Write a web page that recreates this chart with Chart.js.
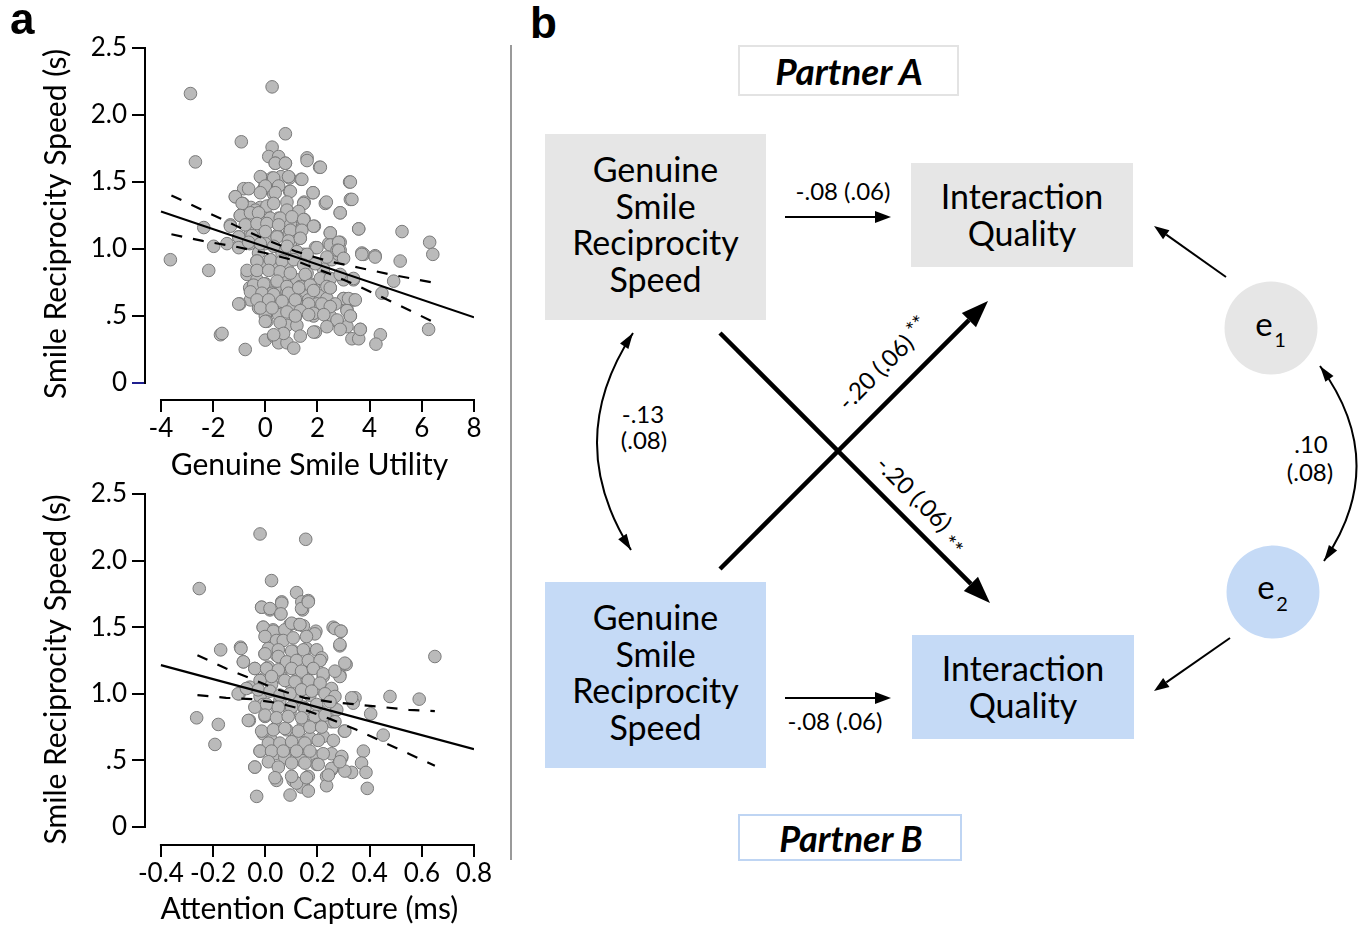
<!DOCTYPE html>
<html>
<head>
<meta charset="utf-8">
<script src="https://cdn.jsdelivr.net/npm/chart.js@4.4.1/dist/chart.umd.min.js"></script>
<style>
	html, body { margin: 0; padding: 0; background: #fff; }
	#page { position: relative; width: 1362px; height: 930px; overflow: hidden; font-family: Lato, sans-serif; }
	#diagram { position: absolute; left: 0; top: 0; }
	canvas { position: absolute; left: 0; }
	#utility-scatter { top: 0; }
	#attention-scatter { top: 470px; }
	.panel-label { position: absolute; font: bold 44px "Liberation Sans", Arial, sans-serif; line-height: 1; }
</style>
</head>
<body>
<div id="page">
	<svg id="diagram" width="1362" height="930"></svg>
	<canvas id="utility-scatter" width="510" height="490"></canvas>
	<canvas id="attention-scatter" width="510" height="460"></canvas>
	<div class="panel-label" style="left:10px; top:-3px;">a</div>
	<div class="panel-label" style="left:530px; top:1px;">b</div>
</div>
<script>

//
// Data
//

// panel a, top: genuine smile utility vs smile reciprocity speed
var utilityX = [
	-2.87, 0.26, -2.68, 0.77, -0.92, 0.26, 0.13, 0.51, 0.38, 0.77, 1.60, 2.08,
	-0.13, 0.26, 0.60, 0.93, 1.37, 3.23, 0.00, 0.38, -0.83, -0.06, 0.32, 0.93,
	1.83, -1.15, -0.86, 0.29, 0.83, 1.49, 2.30, 3.26, 2.87, -0.55, -0.19, -0.96,
	-0.34, 0.06, 0.51, 1.21, 1.49, -1.34, -0.74, 0.51, 0.96, 1.40, 1.88, 3.58,
	5.24, 6.30, -2.36, -1.02, -0.57, -0.19, 0.06, 0.45, 0.92, 1.34, 2.49, -1.98,
	-1.02, -0.60, 0.00, 0.96, 1.92, 2.43, 2.87, 3.70, 2.87, -0.26, 0.64, 1.47,
	3.77, 4.21, 6.42, 5.17, -0.32, 0.19, 0.96, 1.72, 2.55, 2.81, -3.64, -2.17,
	-0.70, -0.19, 0.26, 0.83, 1.60, 2.23, -0.32, 0.00, 0.77, 1.21, 1.72, 2.49,
	3.00, 3.38, 4.92, -0.60, -0.17, 0.45, 1.34, 1.85, 2.49, 4.47, 0.26, 0.83,
	1.47, 2.11, -0.57, 0.06, 0.64, 1.21, 1.66, 2.36, 3.00, 3.38, -0.98, -0.26,
	0.26, 0.96, 1.98, 2.49, 3.13, 0.00, 0.51, 1.15, 1.85, 2.49, 3.26, 0.06,
	0.83, 1.21, 2.75, 3.13, 3.64, 1.92, 4.41, 6.26, -1.72, 0.00, 0.32, 0.51,
	0.83, 1.09, -0.77, 3.32, 3.58, 4.24,
	0.38, 0.77, 1.60, 2.11, -0.19, 0.32, 0.89, 1.40, 0.00, 0.51, 0.96, 1.83,
	3.26, -1.15, -0.64, -0.19, 0.38, 0.83, 1.47, 2.34, 3.32, -0.89, -0.38, 0.06,
	0.32, 0.83, 1.28, 2.87, -0.96, -0.57, -0.26, 0.19, 0.57, 1.02, 1.47, 1.85,
	3.58, -1.34, -0.77, -0.32, 0.06, 0.51, 0.96, 1.40, 2.49, -1.02, -0.51, 0.00,
	0.45, 0.89, 1.34, 1.98, 2.49, 2.81, 2.75, -1.47, -1.02, -0.64, -0.19, 0.32,
	0.83, 1.21, 1.60, 2.36, 2.81, 3.00, 3.70, 4.21, -0.32, 0.19, 0.64, 1.09,
	1.47, 1.92, -0.70, -0.32, 0.13, 0.57, 0.96, 1.53, 2.11, 2.49, 2.87, 3.38,
	-0.45, -0.06, 0.45, 0.83, 1.34, 1.72, 2.36, -0.57, -0.13, 0.32, 0.89, 1.28,
	1.85, 2.49, 3.00, -1.02, -0.32, 0.13, 0.64, 1.15, 1.66, 2.17, 2.68, 3.19,
	3.45, -0.19, 0.26, 0.83, 1.34, 1.85, 2.49, 3.13, 0.00, 0.57, 1.15, 1.66,
	2.24, 2.75, 3.26, 0.70, 1.85, 2.36, 2.87, 3.64, -1.66, 0.32, 1.34
];
var utilityY = [
	2.16, 2.21, 1.65, 1.86, 1.80, 1.76, 1.69, 1.69, 1.64, 1.64, 1.68, 1.61,
	1.53, 1.53, 1.54, 1.53, 1.52, 1.50, 1.47, 1.48, 1.45, 1.45, 1.41, 1.43,
	1.42, 1.39, 1.34, 1.34, 1.29, 1.35, 1.34, 1.37, 1.27, 1.31, 1.31, 1.25,
	1.27, 1.25, 1.23, 1.24, 1.22, 1.18, 1.19, 1.18, 1.19, 1.15, 1.17, 1.15,
	1.13, 1.05, 1.16, 1.09, 1.12, 1.12, 1.07, 1.10, 1.12, 1.08, 1.12, 1.02,
	1.02, 1.04, 1.04, 1.04, 1.01, 1.04, 1.05, 0.97, 0.99, 0.97, 0.97, 0.96,
	0.96, 0.95, 0.96, 0.91, 0.91, 0.92, 0.92, 0.91, 0.92, 0.96, 0.92, 0.84,
	0.81, 0.87, 0.86, 0.87, 0.82, 0.85, 0.77, 0.74, 0.79, 0.77, 0.74, 0.78,
	0.77, 0.77, 0.76, 0.71, 0.71, 0.69, 0.71, 0.72, 0.71, 0.67, 0.67, 0.68,
	0.67, 0.65, 0.62, 0.62, 0.61, 0.62, 0.62, 0.63, 0.63, 0.62, 0.59, 0.56,
	0.56, 0.56, 0.59, 0.57, 0.55, 0.50, 0.51, 0.49, 0.50, 0.50, 0.50, 0.46,
	0.43, 0.43, 0.46, 0.42, 0.40, 0.38, 0.36, 0.40, 0.36, 0.32, 0.35, 0.30,
	0.30, 0.26, 0.25, 0.33, 0.33, 0.29,
	1.64, 1.64, 1.66, 1.61, 1.54, 1.53, 1.54, 1.52, 1.47, 1.47, 1.43, 1.42,
	1.50, 1.39, 1.45, 1.42, 1.42, 1.35, 1.34, 1.35, 1.37, 1.34, 1.29, 1.32,
	1.34, 1.29, 1.28, 1.27, 1.25, 1.27, 1.27, 1.23, 1.23, 1.24, 1.22, 1.17,
	1.15, 1.17, 1.18, 1.19, 1.19, 1.18, 1.14, 1.14, 1.12, 1.09, 1.10, 1.13,
	1.09, 1.06, 1.08, 1.01, 1.03, 1.05, 0.99, 1.04, 1.01, 1.05, 1.04, 1.02,
	1.02, 0.98, 0.96, 0.94, 0.99, 0.93, 0.96, 0.94, 0.91, 0.92, 0.91, 0.92,
	0.88, 0.89, 0.84, 0.84, 0.84, 0.83, 0.82, 0.81, 0.78, 0.78, 0.81, 0.78,
	0.73, 0.74, 0.76, 0.72, 0.72, 0.73, 0.72, 0.68, 0.67, 0.66, 0.67, 0.71,
	0.69, 0.71, 0.63, 0.59, 0.62, 0.62, 0.61, 0.62, 0.59, 0.59, 0.59, 0.63,
	0.62, 0.56, 0.56, 0.53, 0.54, 0.52, 0.57, 0.54, 0.46, 0.45, 0.50, 0.51,
	0.51, 0.47, 0.50, 0.37, 0.38, 0.42, 0.40, 0.40, 0.37, 0.36, 0.35
];
var utilityFitX = [-4, 8];
var utilityFitY = [1.28, 0.49];
var utilityBandX = [-3.6, -2.4, -1.2, 0, 1.2, 2.4, 3.6, 4.8, 6.4];
var utilityUpper = [1.40, 1.29, 1.18, 1.07, 0.98, 0.91, 0.86, 0.81, 0.75];
var utilityLower = [1.11, 1.06, 1.02, 0.97, 0.91, 0.82, 0.72, 0.61, 0.46];

// panel a, bottom: attention capture vs smile reciprocity speed
var attentionX = [
	-0.020, 0.155, -0.253, 0.024, 0.120, 0.140, 0.165, 0.143, -0.014, 0.018, 0.063, 0.059,
	0.650, -0.008, 0.030, 0.095, 0.127, 0.146, 0.194, 0.260, 0.290, 0.012, 0.063, -0.171,
	-0.095, -0.001, 0.043, 0.107, 0.158, 0.286, 0.210, 0.310, -0.084, -0.040, 0.012, 0.075,
	0.120, 0.178, 0.222, 0.286, -0.001, 0.063, -0.100, -0.059, 0.024, 0.095, 0.146, 0.203,
	0.254, 0.344, 0.478, 0.590, -0.020, 0.056, 0.120, 0.171, 0.254, -0.263, -0.180, -0.061,
	-0.001, 0.043, 0.095, 0.146, 0.210, 0.274, 0.404, 0.337, -0.008, -0.193, -0.008, 0.043,
	0.082, 0.146, 0.197, 0.254, 0.303, 0.452, 0.120, 0.171, 0.222, 0.024, -0.020, 0.037,
	0.095, 0.152, 0.197, 0.254, 0.376, 0.075, 0.139, 0.293, 0.369, -0.040, 0.043, 0.107,
	0.146, 0.165, 0.235, 0.254, 0.331, 0.386, 0.391, 0.235, 0.197, 0.280, -0.033, 0.095,
	0.139, 0.165, 0.120,
	-0.014, 0.018, 0.063, 0.060, 0.139, 0.165, -0.008, 0.031, 0.075, 0.101, 0.133, 0.190,
	0.267, 0.290, 0.286, -0.001, 0.043, 0.069, 0.107, 0.158, -0.093, 0.012, 0.050, 0.101,
	0.146, 0.197, 0.216, -0.001, 0.050, 0.082, 0.120, 0.165, 0.210, 0.305, -0.084, -0.040,
	0.005, 0.050, 0.101, 0.139, 0.184, 0.222, 0.286, 0.267, -0.020, 0.024, 0.075, 0.114,
	0.165, 0.210, 0.254, -0.104, -0.072, -0.027, 0.018, 0.056, 0.095, 0.139, 0.178, 0.229,
	0.267, 0.331, -0.040, 0.005, 0.050, 0.101, 0.152, 0.197, 0.248, -0.065, -0.001, 0.043,
	0.088, 0.139, 0.190, 0.229, 0.267, -0.014, 0.031, 0.075, 0.127, 0.171, 0.216, 0.305,
	0.012, 0.056, 0.101, 0.152, 0.203, 0.261, -0.020, 0.024, 0.069, 0.120, 0.171, 0.222,
	0.293, -0.040, 0.012, 0.050, 0.101, 0.152, 0.203, 0.254, 0.305, 0.286, 0.037, 0.101,
	0.158, 0.242
];
var attentionY = [
	2.20, 2.16, 1.79, 1.85, 1.76, 1.69, 1.70, 1.63, 1.65, 1.63, 1.69, 1.60,
	1.28, 1.50, 1.48, 1.52, 1.52, 1.51, 1.47, 1.50, 1.47, 1.43, 1.40, 1.33,
	1.35, 1.30, 1.29, 1.32, 1.34, 1.36, 1.25, 1.22, 1.24, 1.19, 1.20, 1.20,
	1.17, 1.19, 1.13, 1.14, 1.12, 1.12, 1.00, 1.05, 1.07, 1.08, 1.07, 1.04,
	1.03, 0.97, 0.98, 0.96, 0.98, 0.95, 0.97, 0.99, 0.95, 0.82, 0.77, 0.80,
	0.83, 0.90, 0.87, 0.90, 0.87, 0.88, 0.85, 0.93, 0.92, 0.62, 0.70, 0.75,
	0.73, 0.78, 0.77, 0.79, 0.72, 0.69, 0.68, 0.67, 0.68, 0.65, 0.57, 0.55,
	0.58, 0.59, 0.53, 0.55, 0.57, 0.52, 0.50, 0.52, 0.48, 0.45, 0.35, 0.35,
	0.33, 0.38, 0.38, 0.43, 0.41, 0.41, 0.29, 0.31, 0.47, 0.47, 0.23, 0.24,
	0.30, 0.27, 0.33,
	1.65, 1.64, 1.68, 1.60, 1.64, 1.69, 1.50, 1.47, 1.48, 1.53, 1.52, 1.45,
	1.49, 1.47, 1.37, 1.43, 1.40, 1.40, 1.42, 1.43, 1.34, 1.34, 1.33, 1.32,
	1.33, 1.33, 1.27, 1.30, 1.28, 1.24, 1.25, 1.25, 1.25, 1.23, 1.24, 1.19,
	1.19, 1.18, 1.19, 1.17, 1.19, 1.15, 1.13, 1.17, 1.10, 1.13, 1.10, 1.09,
	1.10, 1.08, 1.04, 1.00, 1.04, 1.03, 1.02, 0.99, 1.00, 1.03, 1.02, 1.00,
	0.98, 0.97, 0.90, 0.92, 0.90, 0.90, 0.89, 0.92, 0.94, 0.80, 0.84, 0.82,
	0.83, 0.82, 0.83, 0.84, 0.79, 0.72, 0.73, 0.74, 0.72, 0.75, 0.75, 0.72,
	0.63, 0.63, 0.64, 0.63, 0.65, 0.65, 0.57, 0.57, 0.57, 0.57, 0.57, 0.55,
	0.53, 0.45, 0.49, 0.45, 0.48, 0.48, 0.47, 0.44, 0.42, 0.49, 0.37, 0.38,
	0.37, 0.39
];
var attentionFitX = [-0.4, 0.8];
var attentionFitY = [1.215, 0.585];
var attentionBandX = [-0.26, -0.15, -0.05, 0.05, 0.15, 0.25, 0.35, 0.45, 0.55, 0.65];
var attentionUpper = [1.29, 1.19, 1.11, 1.03, 0.97, 0.94, 0.92, 0.90, 0.88, 0.87];
var attentionLower = [0.99, 0.97, 0.96, 0.93, 0.88, 0.81, 0.73, 0.64, 0.55, 0.46];

// tick labels
var speedTicks = [0, 0.5, 1, 1.5, 2, 2.5];
var speedTickLabels = ['0', '.5', '1.0', '1.5', '2.0', '2.5'];
var utilityTicks = [-4, -2, 0, 2, 4, 6, 8];
var utilityTickLabels = ['-4', '-2', '0', '2', '4', '6', '8'];
var attentionTicks = [-0.4, -0.2, 0, 0.2, 0.4, 0.6, 0.8];
var attentionTickLabels = ['-0.4', '-0.2', '0.0', '0.2', '0.4', '0.6', '0.8'];

// panel b path coefficients
var actorLabel = '-.08 (.06)';
var partnerLabel = '-.20 (.06)';
var predictorCovLabel = ['-.13', '(.08)'];
var residualCovLabel = ['.10', '(.08)'];


//
// Methods
//

Chart.defaults.font.family = 'Lato, sans-serif';
Chart.defaults.color = '#000';

function toPoints(xs, ys) {
	return xs.map(function(x, i) { return { x: x, y: ys[i] }; });
}

// axis lines only span the first and last tick, like the detached axes of the figure
var axisLines = {
	id: 'axisLines',
	afterDraw: function(chart, args, opts) {
		var ctx = chart.ctx, area = chart.chartArea;
		var xs = chart.scales.x, ys = chart.scales.y;
		ctx.save();
		ctx.strokeStyle = '#000';
		ctx.lineWidth = 2;
		ctx.beginPath();
		ctx.moveTo(area.left, ys.getPixelForValue(opts.yTicks[0]) + 1);
		ctx.lineTo(area.left, ys.getPixelForValue(opts.yTicks[opts.yTicks.length - 1]) - 1);
		ctx.moveTo(xs.getPixelForValue(opts.xTicks[0]) - 1, area.bottom);
		ctx.lineTo(xs.getPixelForValue(opts.xTicks[opts.xTicks.length - 1]) + 1, area.bottom);
		ctx.stroke();
		ctx.restore();
	}
};

function initScatter(canvasId, cfg) {
	var canvas = document.getElementById(canvasId);

	return new Chart(canvas, {
		type: 'scatter',
		data: {
			datasets: [{
				data: toPoints(cfg.fitX, cfg.fitY),
				showLine: true, pointRadius: 0, borderColor: '#000', borderWidth: 2.2
			}, {
				data: toPoints(cfg.bandX, cfg.upper),
				showLine: true, pointRadius: 0, borderColor: '#000', borderWidth: 2.2, borderDash: [11, 11]
			}, {
				data: toPoints(cfg.bandX, cfg.lower),
				showLine: true, pointRadius: 0, borderColor: '#000', borderWidth: 2.2, borderDash: [11, 11]
			}, {
				data: toPoints(cfg.x, cfg.y),
				pointRadius: 6.3,
				pointBackgroundColor: '#bababa',
				pointBorderColor: '#7a7a7a',
				pointBorderWidth: 1
			}]
		},
		options: {
			responsive: false,
			animation: false,
			events: [],
			layout: { padding: { left: 0, top: cfg.top, right: 36, bottom: 0 } },
			plugins: {
				legend: { display: false },
				tooltip: { enabled: false },
				axisLines: { xTicks: cfg.xTicks, yTicks: speedTicks }
			},
			scales: {
				x: {
					min: cfg.xMin, max: cfg.xTicks[cfg.xTicks.length - 1],
					afterFit: function(s) { s.height = cfg.xHeight; },
					afterBuildTicks: function(s) { s.ticks = cfg.xTicks.map(function(v) { return { value: v }; }); },
					border: { display: false },
					grid: { drawOnChartArea: false, drawTicks: true, tickLength: 12, lineWidth: 2, color: '#000' },
					ticks: {
						autoSkip: false, maxRotation: 0, padding: 1,
						font: { size: 26 },
						callback: function(v, i) { return cfg.xLabels[i]; }
					},
					title: { display: true, text: cfg.xTitle, font: { size: 30 }, padding: { top: 0, bottom: cfg.xTitlePad } }
				},
				y: {
					min: cfg.yMin, max: 2.5,
					afterFit: function(s) { s.width = 145; },
					afterBuildTicks: function(s) { s.ticks = speedTicks.map(function(v) { return { value: v }; }); },
					border: { display: false },
					grid: {
						drawOnChartArea: false, drawTicks: true, tickLength: 13, lineWidth: 2,
						color: function(c) { return (c.tick && c.tick.value === 0) ? cfg.zeroTickColor : '#000'; }
					},
					ticks: {
						padding: 5,
						font: { size: 26 },
						callback: function(v, i) { return speedTickLabels[i]; }
					},
					title: { display: true, text: 'Smile Reciprocity Speed (s)', font: { size: 30 }, padding: { top: 38, bottom: 0 } }
				}
			}
		},
		plugins: [axisLines]
	});
}


//
// Diagram (panel b)
//

function arrow(x1, y1, x2, y2, w, hl, hw) {
	var dx = x2 - x1, dy = y2 - y1, len = Math.sqrt(dx * dx + dy * dy);
	var ux = dx / len, uy = dy / len;
	var bx = x2 - ux * (hl - 1), by = y2 - uy * (hl - 1);
	var px = -uy * hw / 2, py = ux * hw / 2;
	return '<line x1="' + x1 + '" y1="' + y1 + '" x2="' + bx + '" y2="' + by + '" stroke="#000" stroke-width="' + w + '"/>' +
		'<polygon fill="#000" points="' + x2 + ',' + y2 + ' ' + (bx + px) + ',' + (by + py) + ' ' + (bx - px) + ',' + (by - py) + '"/>';
}

function head(tx, ty, ux, uy, hl, hw) {
	var len = Math.sqrt(ux * ux + uy * uy);
	ux /= len; uy /= len;
	var bx = tx - ux * hl, by = ty - uy * hl;
	var px = -uy * hw / 2, py = ux * hw / 2;
	return '<polygon fill="#000" points="' + tx + ',' + ty + ' ' + (bx + px) + ',' + (by + py) + ' ' + (bx - px) + ',' + (by - py) + '"/>';
}

function curvedArrow(p0, c, p2) {
	return '<path d="M' + p0[0] + ',' + p0[1] + ' Q' + c[0] + ',' + c[1] + ' ' + p2[0] + ',' + p2[1] + '" fill="none" stroke="#000" stroke-width="2"/>' +
		head(p0[0], p0[1], p0[0] - c[0], p0[1] - c[1], 16, 10) +
		head(p2[0], p2[1], p2[0] - c[0], p2[1] - c[1], 16, 10);
}

function box(x, y, w, h, fill, lines, lineH, shift) {
	var s = '<rect x="' + x + '" y="' + y + '" width="' + w + '" height="' + h + '" fill="' + fill + '"/>';
	var cy = y + h / 2, first = cy - (lines.length - 1) / 2 * lineH + shift;
	lines.forEach(function(t, i) {
		s += '<text x="' + (x + w / 2) + '" y="' + (first + i * lineH) + '" text-anchor="middle" font-size="34">' + t + '</text>';
	});
	return s;
}

function initDiagram() {
	var gray = '#e6e6e6', blue = '#c5daf6';
	var predictor = ['Genuine', 'Smile', 'Reciprocity', 'Speed'];
	var outcome = ['Interaction', 'Quality'];
	var s = '';

	s += '<line x1="511" y1="45" x2="511" y2="860" stroke="#9a9a9a" stroke-width="2"/>';

	// partner labels
	s += '<rect x="739" y="46" width="219" height="49" fill="#fff" stroke="#e3e3e3" stroke-width="2"/>';
	s += '<text x="849" y="85" text-anchor="middle" font-size="37" font-weight="bold" font-style="italic">Partner A</text>';
	s += '<rect x="739" y="815" width="222" height="45" fill="#fff" stroke="#bfd5f3" stroke-width="2"/>';
	s += '<text x="851" y="852" text-anchor="middle" font-size="36" font-weight="bold" font-style="italic">Partner B</text>';

	// boxes
	s += box(545, 134, 221, 186, gray, predictor, 36.5, 10);
	s += box(911, 163, 222, 104, gray, outcome, 37, 12);
	s += box(545, 582, 221, 186, blue, predictor, 36.5, 10);
	s += box(912, 635, 222, 104, blue, outcome, 37, 12);

	// residual circles
	s += '<circle cx="1271" cy="328" r="46.5" fill="' + gray + '"/>';
	s += '<text x="1264" y="336" text-anchor="middle" font-size="33">e</text>';
	s += '<text x="1280" y="347" text-anchor="middle" font-size="20">1</text>';
	s += '<circle cx="1273" cy="592" r="46.5" fill="' + blue + '"/>';
	s += '<text x="1266" y="599" text-anchor="middle" font-size="33">e</text>';
	s += '<text x="1282" y="611" text-anchor="middle" font-size="20">2</text>';

	// actor paths
	s += arrow(785, 217, 891, 217, 2, 17, 12);
	s += arrow(785, 698, 891, 698, 2, 17, 12);
	s += '<text x="843" y="200" text-anchor="middle" font-size="24">' + actorLabel + '</text>';
	s += '<text x="835" y="730" text-anchor="middle" font-size="24">' + actorLabel + '</text>';

	// residual paths
	s += arrow(1226, 277, 1154, 226, 2, 16, 11);
	s += arrow(1230, 638, 1154, 691, 2, 16, 11);

	// partner paths
	s += arrow(720, 333, 990, 603, 4.5, 28, 20);
	s += arrow(720, 569, 988, 301, 4.5, 28, 20);
	s += '<text transform="translate(890,370) rotate(-45)" text-anchor="middle" font-size="24">' + partnerLabel +
		'<tspan font-size="22" dx="5" dy="-5">**</tspan></text>';
	s += '<text transform="translate(917,509) rotate(45)" text-anchor="middle" font-size="24">' + partnerLabel +
		'<tspan font-size="22" dx="7" dy="9">**</tspan></text>';

	// covariances
	s += curvedArrow([633, 333], [562, 441], [631, 550]);
	s += '<text x="643" y="423" text-anchor="middle" font-size="24">' + predictorCovLabel[0] + '</text>';
	s += '<text x="644" y="449" text-anchor="middle" font-size="24">' + predictorCovLabel[1] + '</text>';
	s += curvedArrow([1320, 366], [1391, 463], [1324, 561]);
	s += '<text x="1311" y="453" text-anchor="middle" font-size="24">' + residualCovLabel[0] + '</text>';
	s += '<text x="1310" y="481" text-anchor="middle" font-size="24">' + residualCovLabel[1] + '</text>';

	var svg = document.getElementById('diagram');
	svg.setAttribute('font-family', 'Lato, sans-serif');
	svg.innerHTML = s;
}


//
// Init
//

initDiagram();

initScatter('utility-scatter', {
	x: utilityX, y: utilityY,
	fitX: utilityFitX, fitY: utilityFitY,
	bandX: utilityBandX, upper: utilityUpper, lower: utilityLower,
	xTicks: utilityTicks, xLabels: utilityTickLabels,
	xMin: -4.613, yMin: -0.127, top: 48, xHeight: 90, xTitlePad: 7,
	xTitle: 'Genuine Smile Utility', zeroTickColor: '#1f1f8f'
});

initScatter('attention-scatter', {
	x: attentionX, y: attentionY,
	fitX: attentionFitX, fitY: attentionFitY,
	bandX: attentionBandX, upper: attentionUpper, lower: attentionLower,
	xTicks: attentionTicks, xLabels: attentionTickLabels,
	xMin: -0.461, yMin: -0.135, top: 24, xHeight: 85, xTitlePad: 3,
	xTitle: 'Attention Capture (ms)', zeroTickColor: '#000'
});

</script>
</body>
</html>
